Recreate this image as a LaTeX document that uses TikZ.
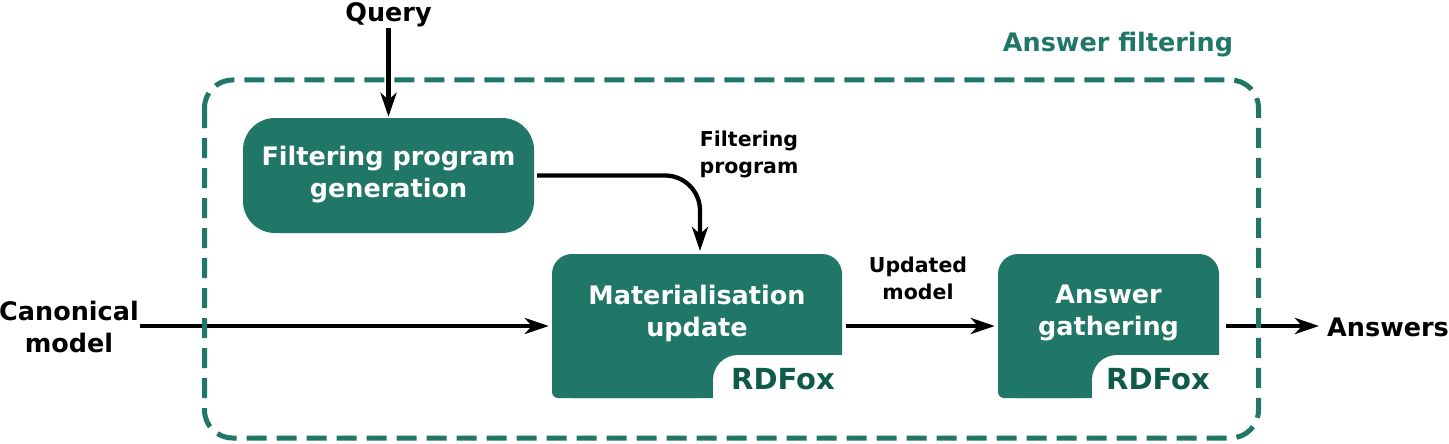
\documentclass[tikz,border=0pt]{standalone}
\usepackage{fontspec}
\setmainfont{DejaVu Sans}
\usetikzlibrary{arrows.meta,calc}
\definecolor{teal1}{RGB}{33,119,103}
\definecolor{teal2}{RGB}{15,90,72}
\tikzset{
  mainfont/.style={font=\fontsize{25.5}{32}\selectfont\bfseries},
  smallfont/.style={font=\fontsize{20.5}{27}\selectfont\bfseries},
  procbox/.style={fill=teal1, draw=none, rounded corners=20, inner sep=0},
  boxtext/.style={mainfont, text=white, align=center, inner sep=0},
  lab/.style={inner sep=0, align=center},
  arr/.style={line width=4.3, -{Stealth[length=24,width=16,inset=7]}},
  border/.style={draw=teal1, line width=5, dash pattern=on 20 off 10, rounded corners=28},
}
\begin{document}
\begin{tikzpicture}[x=1pt,y=-1pt]
\useasboundingbox (0,0) rectangle (1449,444);
% boxes
\node[procbox, rounded corners=32, minimum width=291, minimum height=115] (fpg) at (388.5,175.5) {};
\node[boxtext] at (388.5,175) {Filtering program\\generation};

\node[procbox, minimum width=290, minimum height=144] (mat) at (697,326) {};
\fill[teal1, rounded corners=6] (552,300) rectangle (700,398);
\fill[white, rounded corners=25] (713,355) rectangle (880,425);
\node[boxtext] at (697,313) {Materialisation\\update};
\node[text=teal2, font=\fontsize{29}{32}\selectfont\bfseries, inner sep=0] (rd1) at (783,379) {RDFox};

\node[procbox, minimum width=221, minimum height=144] (ag) at (1108.5,326) {};
\fill[teal1, rounded corners=6] (998,300) rectangle (1080,398);
\fill[white, rounded corners=25] (1092,355) rectangle (1248,425);
\node[boxtext] at (1108.5,313) {Answer\\gathering};
\node[text=teal2, font=\fontsize{29}{32}\selectfont\bfseries, inner sep=0] (rd2) at (1158,379) {RDFox};

% labels
\node[mainfont, inner sep=1] (q) at (388.5,15) {Query};
\node[mainfont, lab] (cm) at (69,327) {Canonical\\model};
\node[mainfont, lab, anchor=west] (ans) at (1327,327) {Answers};
\node[smallfont, lab] (fpl) at (749,154) {Filtering\\program};
\node[smallfont, lab] (uml) at (918,278) {Updated\\model};
\node[mainfont, text=teal1, inner sep=0] (afl) at (1118,45) {Answer filtering};

\coordinate (matin) at (700,254);

% connectors
\draw[arr, shorten >=1] (q.south) -- (fpg.north);
\draw[arr, shorten <=1, shorten >=3] (cm.east |- mat.west) -- (mat.west);
\draw[arr, shorten <=4, shorten >=3] (mat.east) -- (ag.west);
\draw[arr, shorten <=7, shorten >=8] (ag.east) -- (ag.east -| ans.west);
\draw[arr, rounded corners=35, shorten <=3, shorten >=3] (fpg.east) -- (fpg.east -| matin) -- (matin);

% dashed frame
\draw[border] (204.5,80) rectangle (1258.5,438);
\end{tikzpicture}
\end{document}
